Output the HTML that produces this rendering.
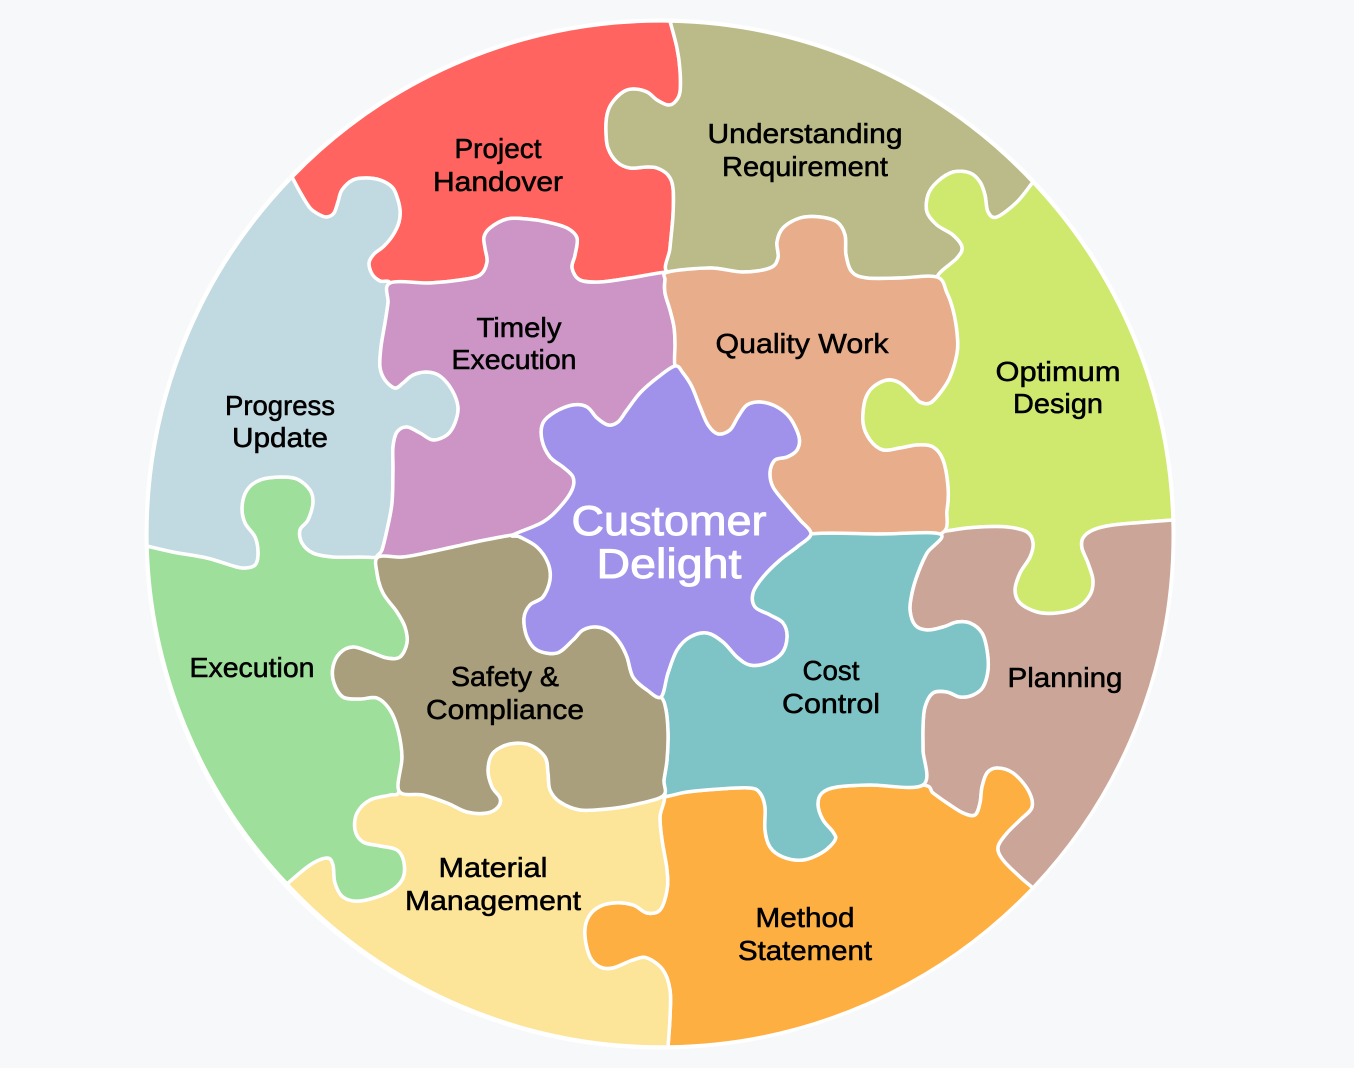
<!DOCTYPE html>
<html>
<head>
<meta charset="utf-8">
<style>
  html,body{margin:0;padding:0;background:#F7F8FA;}
  svg{display:block;}
  .p{stroke:#fff;stroke-width:3.5;stroke-linejoin:round;}
  text{font-family:"Liberation Sans",sans-serif;font-size:28px;fill:#000;text-anchor:middle;stroke:#000;stroke-width:0.55;}
  .big{font-size:42px;fill:#fff;stroke:#fff;stroke-width:0.9;}
</style>
</head>
<body>
<svg width="1354" height="1068" viewBox="0 0 1354 1068" xmlns="http://www.w3.org/2000/svg">
<rect width="1354" height="1068" fill="#F7F8FA"/>
<circle cx="660" cy="534" r="515.5" fill="#fff"/>

<!-- Project Handover -->
<path class="p" fill="#FF6461" d="M292,177 A513,513 0 0 1 670,21 L677,48 680,70 680,92 675,102 668,105 657,100 647,92 633,89 623,92 612,103 607,115 606,132 608,148 617,162 630,168 647,167 657,168 668,175 673,188 673,215 670,248 668,272 630,278 600,282 580,280 572,268 575,255 577,238 567,228 547,222 527,219 507,219 490,228 484,237 485,248 487,262 480,275 460,280 430,283 390,283 380,281 372,274 369,263 374,254 384,246 393,235 399,222 400,210 397,197 392,187 380,180 366,178 353,180 342,190 338,202 334,213 327,217 320,215 310,208 300,192 Z"/>

<!-- Understanding Requirement -->
<path class="p" fill="#BBBB8A" d="M670,21 A513,513 0 0 1 1033,182 L1017,202 997,217 988,212 985,195 980,182 970,173 953,172 937,182 928,195 927,212 937,225 953,235 962,247 957,258 937,277 900,278 867,278 852,272 846,255 845,235 837,222 820,217 800,218 783,228 777,242 778,258 770,268 743,272 710,268 668,272 670,248 673,215 673,188 668,175 657,168 647,167 630,168 617,162 608,148 606,132 607,115 612,103 623,92 633,89 647,92 657,100 668,105 675,102 680,92 680,70 677,48 Z"/>

<!-- Optimum Design -->
<path class="p" fill="#CFE96F" d="M1033,182 A513,513 0 0 1 1173,520 L1147,522 1113,525 1093,530 1083,538 1082,548 1088,563 1093,580 1090,595 1077,608 1057,613 1037,612 1020,603 1015,590 1020,573 1030,557 1033,543 1027,532 1007,527 980,527 953,530 940,534 947,510 948,487 943,460 933,447 917,445 900,448 883,450 870,440 863,423 865,400 873,387 887,380 900,383 913,395 920,402 930,403 940,393 950,377 957,353 957,333 953,310 947,293 937,277 957,258 962,247 953,235 937,225 927,212 928,195 937,182 953,172 970,173 980,182 985,195 988,212 997,217 1017,202 Z"/>

<!-- Planning -->
<path class="p" fill="#CBA698" d="M1173,520 A513,513 0 0 1 1033,888 L1020,877 1003,860 998,847 1007,833 1020,820 1032,807 1028,790 1013,773 997,768 987,773 982,787 980,803 975,815 963,813 947,803 933,793 923,785 923,750 923,727 925,707 933,693 947,692 960,697 973,695 983,687 988,670 987,650 982,633 970,623 957,622 943,627 927,630 915,625 910,610 912,593 918,573 927,553 940,534 953,530 980,527 1007,527 1027,532 1033,543 1030,557 1020,573 1015,590 1020,603 1037,612 1057,613 1077,608 1090,595 1093,580 1088,563 1082,548 1083,538 1093,530 1113,525 1147,522 Z"/>

<!-- Method Statement -->
<path class="p" fill="#FEAF42" d="M1033,888 A513,513 0 0 1 668,1047 L670,1017 670,990 663,970 647,958 633,960 613,968 600,967 590,957 585,937 587,920 597,908 613,903 633,905 647,913 660,910 667,890 667,870 662,840 660,817 663,796 687,792 720,789 750,788 760,793 765,807 765,830 770,847 783,857 803,860 823,852 835,840 833,832 823,820 818,805 822,793 837,787 870,785 923,785 933,793 947,803 963,813 975,815 980,803 982,787 987,773 997,768 1013,773 1028,790 1032,807 1020,820 1007,833 998,847 1003,860 1020,877 Z"/>

<!-- Material Management -->
<path class="p" fill="#FCE598" d="M668,1047 A513,513 0 0 1 287,884 L310,865 327,858 333,865 335,883 343,897 360,901 387,893 402,880 404,863 397,850 380,846 363,842 355,830 357,813 370,800 390,795 399,791 423,795 447,803 467,812 487,813 498,807 500,798 492,787 488,770 493,753 510,744 530,745 545,757 548,773 550,790 560,802 580,810 607,809 633,805 663,796 660,817 662,840 667,870 667,890 660,910 647,913 633,905 613,903 597,908 587,920 585,937 590,957 600,967 613,968 633,960 647,958 663,970 670,990 670,1017 Z"/>

<!-- Execution -->
<path class="p" fill="#9EE09B" d="M287,884 A513,513 0 0 1 147,546 L173,552 207,558 230,565 243,568 255,565 258,553 255,537 245,523 242,507 247,490 260,480 280,477 297,479 310,490 313,503 308,520 300,530 302,543 313,553 333,557 360,557 378,557 377,573 383,593 397,612 405,627 407,643 400,657 387,658 370,652 353,647 340,653 333,667 334,683 343,697 360,699 377,698 390,710 398,730 402,757 399,791 390,795 370,800 357,813 355,830 363,842 380,846 397,850 404,863 402,880 387,893 360,901 343,897 335,883 333,865 327,858 310,865 Z"/>

<!-- Progress Update -->
<path class="p" fill="#C1D9E0" d="M147,546 A513,513 0 0 1 292,177 L300,192 310,208 320,215 327,217 334,213 338,202 342,190 353,180 366,178 380,180 392,187 397,197 400,210 399,222 393,235 384,246 374,254 369,263 372,274 380,281 390,283 388,303 385,323 381,347 380,367 385,380 395,388 403,383 413,375 427,372 440,376 452,390 458,407 455,423 447,435 433,440 420,433 407,427 397,432 393,447 393,470 392,503 387,530 382,550 378,557 360,557 333,557 313,553 302,543 300,530 308,520 313,503 310,490 297,479 280,477 260,480 247,490 242,507 245,523 255,537 258,553 255,565 243,568 230,565 207,558 173,552 Z"/>

<!-- Timely Execution -->
<path class="p" fill="#CC95C6" d="M390,283 L430,283 460,280 480,275 487,262 485,248 484,237 490,228 507,219 527,219 547,222 567,228 577,238 575,255 572,268 580,280 600,282 630,278 668,272 665,280 665,293 670,310 674,327 675,343 675,366 657,378 640,393 627,410 618,422 608,425 597,418 587,407 573,405 555,412 543,423 542,440 550,457 563,467 573,477 572,490 560,507 543,522 513,535 480,541 453,547 430,552 403,557 378,557 382,550 387,530 392,503 393,470 393,447 397,432 407,427 420,433 433,440 447,435 455,423 458,407 452,390 440,376 427,372 413,375 403,383 395,388 385,380 380,367 381,347 385,323 388,303 Z"/>

<!-- Quality Work -->
<path class="p" fill="#E8AD8B" d="M668,272 L710,268 743,272 770,268 778,258 777,242 783,228 800,218 820,217 837,222 845,235 846,255 852,272 867,278 900,278 937,277 947,293 953,310 957,333 957,353 950,377 940,393 930,403 920,402 913,395 900,383 887,380 873,387 865,400 863,423 870,440 883,450 900,448 917,445 933,447 943,460 948,487 947,510 940,534 880,534 811,534 800,520 787,505 773,487 770,472 775,460 787,457 797,450 799,437 790,418 777,407 760,402 747,405 738,417 730,430 718,434 708,425 700,407 692,387 683,373 675,366 675,343 674,327 670,310 665,293 665,280 Z"/>

<!-- Cost Control -->
<path class="p" fill="#7EC4C6" d="M811,534 L880,534 940,534 927,553 918,573 912,593 910,610 915,625 927,630 943,627 957,622 970,623 982,633 987,650 988,670 983,687 973,695 960,697 947,692 933,693 925,707 923,727 923,750 923,785 870,785 837,787 822,793 818,805 823,820 833,832 835,840 823,852 803,860 783,857 770,847 765,830 765,807 760,793 750,788 720,789 687,792 663,796 664,780 667,760 668,733 666,710 661,697 668,673 677,650 690,637 707,633 723,642 737,657 750,665 767,663 782,653 787,637 783,623 770,615 755,607 753,593 763,577 780,560 797,547 Z"/>

<!-- Safety & Compliance -->
<path class="p" fill="#AA9F7C" d="M378,557 L403,557 430,552 453,547 480,541 513,535 520,537 537,547 548,563 550,580 543,597 530,605 524,618 527,637 537,650 557,653 573,640 583,630 597,627 610,632 620,643 627,657 633,677 647,690 661,697 666,710 668,733 667,760 664,780 663,796 633,805 607,809 580,810 560,802 550,790 548,773 545,757 530,745 510,744 493,753 488,770 492,787 500,798 498,807 487,813 467,812 447,803 423,795 399,791 402,757 398,730 390,710 377,698 360,699 343,697 334,683 333,667 340,653 353,647 370,652 387,658 400,657 407,643 405,627 397,612 383,593 377,573 Z"/>

<!-- Customer Delight -->
<path class="p" fill="#A092EA" d="M513,535 L543,522 560,507 572,490 573,477 563,467 550,457 542,440 543,423 555,412 573,405 587,407 597,418 608,425 618,422 627,410 640,393 657,378 675,366 683,373 692,387 700,407 708,425 718,434 730,430 738,417 747,405 760,402 777,407 790,418 799,437 797,450 787,457 775,460 770,472 773,487 787,505 800,520 811,534 797,547 780,560 763,577 753,593 755,607 770,615 783,623 787,637 782,653 767,663 750,665 737,657 723,642 707,633 690,637 677,650 668,673 661,697 647,690 633,677 627,657 620,643 610,632 597,627 583,630 573,640 557,653 537,650 527,637 524,618 530,605 543,597 550,580 548,563 537,547 520,537 Z"/>

<!-- Labels -->
<text x="498" y="158" textLength="87" lengthAdjust="spacingAndGlyphs">Project</text>
<text x="498" y="191" textLength="130" lengthAdjust="spacingAndGlyphs">Handover</text>

<text x="805" y="143" textLength="195" lengthAdjust="spacingAndGlyphs">Understanding</text>
<text x="805" y="176" textLength="166" lengthAdjust="spacingAndGlyphs">Requirement</text>

<text x="1058" y="381" textLength="125" lengthAdjust="spacingAndGlyphs">Optimum</text>
<text x="1058" y="413" textLength="90" lengthAdjust="spacingAndGlyphs">Design</text>

<text x="802" y="353" textLength="173" lengthAdjust="spacingAndGlyphs">Quality Work</text>

<text x="519" y="337" textLength="85" lengthAdjust="spacingAndGlyphs">Timely</text>
<text x="514" y="369" textLength="125" lengthAdjust="spacingAndGlyphs">Execution</text>

<text x="280" y="415" textLength="110" lengthAdjust="spacingAndGlyphs">Progress</text>
<text x="280" y="447" textLength="96" lengthAdjust="spacingAndGlyphs">Update</text>

<text x="252" y="677" textLength="125" lengthAdjust="spacingAndGlyphs">Execution</text>

<text x="1065" y="687" textLength="115" lengthAdjust="spacingAndGlyphs">Planning</text>

<text x="831" y="680" textLength="57" lengthAdjust="spacingAndGlyphs">Cost</text>
<text x="831" y="713" textLength="98" lengthAdjust="spacingAndGlyphs">Control</text>

<text x="505" y="686" textLength="108" lengthAdjust="spacingAndGlyphs">Safety &amp;</text>
<text x="505" y="719" textLength="158" lengthAdjust="spacingAndGlyphs">Compliance</text>

<text x="493" y="877" textLength="109" lengthAdjust="spacingAndGlyphs">Material</text>
<text x="493" y="910" textLength="176" lengthAdjust="spacingAndGlyphs">Management</text>

<text x="805" y="927" textLength="99" lengthAdjust="spacingAndGlyphs">Method</text>
<text x="805" y="960" textLength="134" lengthAdjust="spacingAndGlyphs">Statement</text>

<text class="big" x="669" y="535" textLength="195" lengthAdjust="spacingAndGlyphs">Customer</text>
<text class="big" x="669" y="578" textLength="145" lengthAdjust="spacingAndGlyphs">Delight</text>
</svg>
<script>
(function(){
  function f(v){return (Math.round(v*10)/10);}
  function seg(p0,p1,p2,p3){
    var c1x=p1[0]+(p2[0]-p0[0])/6, c1y=p1[1]+(p2[1]-p0[1])/6;
    var c2x=p2[0]-(p3[0]-p1[0])/6, c2y=p2[1]-(p3[1]-p1[1])/6;
    return ' C'+f(c1x)+','+f(c1y)+' '+f(c2x)+','+f(c2y)+' '+p2[0]+','+p2[1];
  }
  function smoothOpen(pts){
    var s='',n=pts.length;
    for(var i=0;i<n-1;i++){
      s+=seg(pts[Math.max(i-1,0)],pts[i],pts[i+1],pts[Math.min(i+2,n-1)]);
    }
    return s;
  }
  function smoothClosed(pts){
    var s='',n=pts.length;
    for(var i=0;i<n;i++){
      s+=seg(pts[(i-1+n)%n],pts[i],pts[(i+1)%n],pts[(i+2)%n]);
    }
    return s;
  }
  try{
    var paths=document.querySelectorAll('path.p');
    for(var k=0;k<paths.length;k++){
      var p=paths[k];
      var d=p.getAttribute('d');
      var nums=d.match(/-?\d+(\.\d+)?/g).map(Number);
      var pts=[],out,i;
      if(d.indexOf('A')>=0){
        var m=[nums[0],nums[1]];
        var arc=nums.slice(2,9);
        var rest=nums.slice(9);
        pts.push([arc[5],arc[6]]);
        for(i=0;i<rest.length;i+=2)pts.push([rest[i],rest[i+1]]);
        pts.push(m);
        out='M'+m[0]+','+m[1]+' A'+arc[0]+','+arc[1]+' '+arc[2]+' '+arc[3]+' '+arc[4]+' '+arc[5]+','+arc[6]+smoothOpen(pts)+' Z';
      }else{
        for(i=0;i<nums.length;i+=2)pts.push([nums[i],nums[i+1]]);
        out='M'+pts[0][0]+','+pts[0][1]+smoothClosed(pts)+' Z';
      }
      p.setAttribute('d',out);
    }
  }catch(e){}
})();
</script>
</body>
</html>
